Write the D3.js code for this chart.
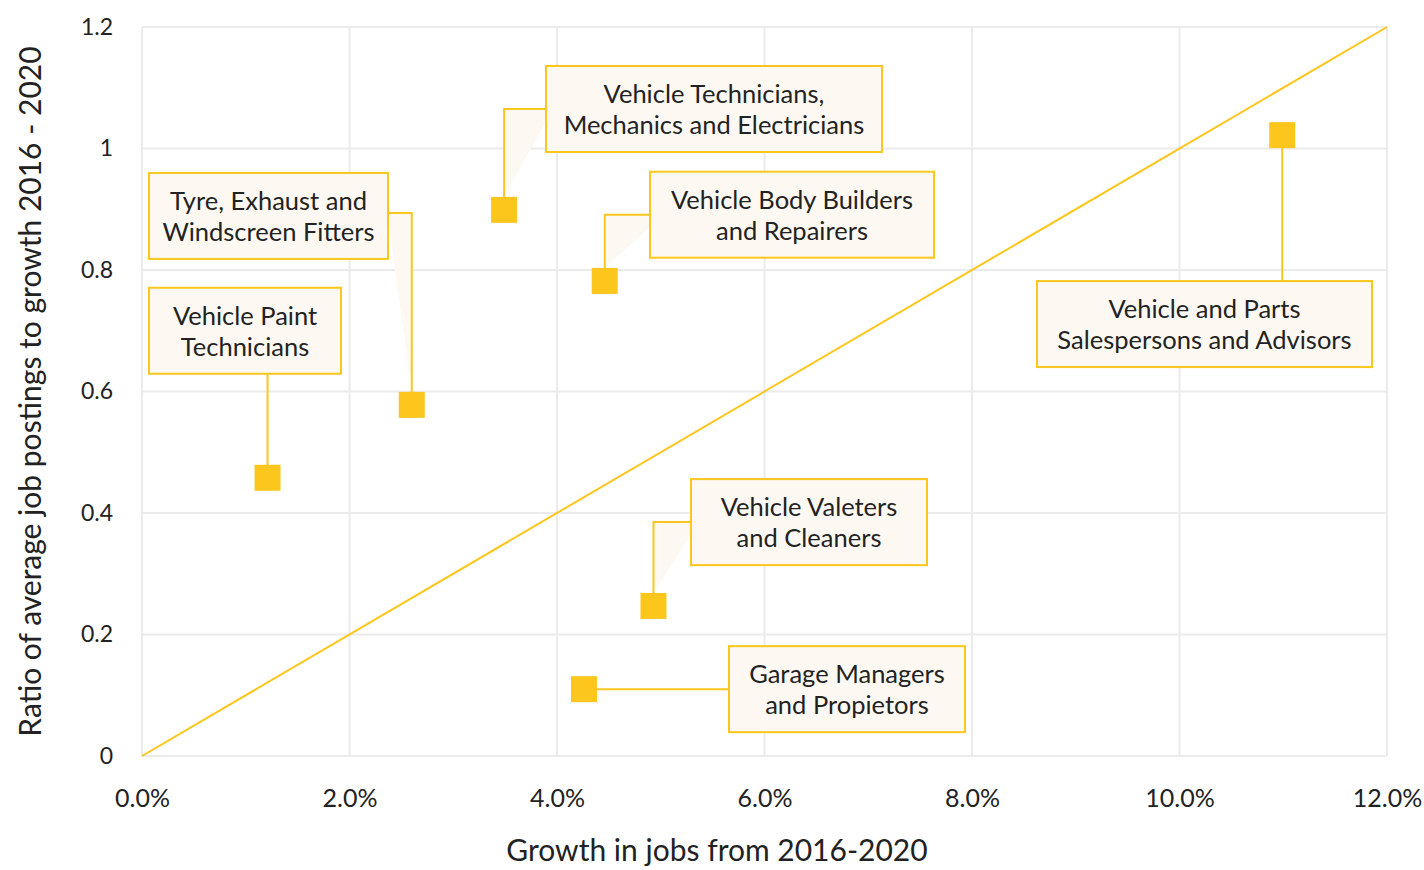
<!DOCTYPE html>
<html>
<head>
<meta charset="utf-8">
<script src="https://cdn.jsdelivr.net/npm/d3@7"></script>
<style>
  body { margin: 0; background: #fff; }
  svg { font-family: Lato, "Open Sans", sans-serif; }
</style>
</head>
<body>
<script>
// occupations
var occupations = [
  ["Vehicle Paint", "Technicians"],
  ["Tyre, Exhaust and", "Windscreen Fitters"],
  ["Vehicle Technicians,", "Mechanics and Electricians"],
  ["Vehicle Body Builders", "and Repairers"],
  ["Vehicle and Parts", "Salespersons and Advisors"],
  ["Vehicle Valeters", "and Cleaners"],
  ["Garage Managers", "and Propietors"]
];
// growth in jobs 2016-2020 (%)
var growth = [1.21, 2.60, 3.49, 4.46, 10.99, 4.93, 4.26];
// ratio of avg job postings to growth
var ratio = [0.458, 0.578, 0.899, 0.782, 1.022, 0.247, 0.110];

var xTicks = [0, 2, 4, 6, 8, 10, 12];
var yTicks = [0, 0.2, 0.4, 0.6, 0.8, 1, 1.2];

// where the callout boxes sit (data units) and which side the leader leaves from
var boxX = [0.993, 1.219, 5.513, 6.265, 10.241, 6.429, 6.795];
var boxY = [0.700, 0.889, 1.065, 0.891, 0.711, 0.385, 0.110];
var boxW = [192, 239, 336, 284, 335, 236, 236];
var leaderSide = ["bottom", "right", "left", "left", "top", "left", "left"];

var W = 1424, H = 870;
var margin = {top: 27, right: 37, bottom: 114, left: 142};
var yellow = "#fcc61d", cream = "#fdf9f2";

var svg = d3.select("body").append("svg").attr("width", W).attr("height", H);

var x = d3.scaleLinear().domain([0, 12]).range([margin.left, W - margin.right]);
var y = d3.scaleLinear().domain([0, 1.2]).range([H - margin.bottom, margin.top]);

// grid
svg.append("g").selectAll("line").data(xTicks).enter().append("line")
  .attr("x1", function(d) { return x(d); }).attr("x2", function(d) { return x(d); })
  .attr("y1", y(0)).attr("y2", y(1.2))
  .attr("stroke", "#ebebeb").attr("stroke-width", 2);
svg.append("g").selectAll("line").data(yTicks).enter().append("line")
  .attr("y1", function(d) { return y(d); }).attr("y2", function(d) { return y(d); })
  .attr("x1", x(0)).attr("x2", x(12))
  .attr("stroke", "#ebebeb").attr("stroke-width", 2);

// axes (labels only)
var xAxis = svg.append("g").attr("transform", "translate(0," + (y(0) + 30) + ")")
  .call(d3.axisBottom(x).tickValues(xTicks).tickSize(0).tickFormat(function(d) { return d.toFixed(1) + "%"; }));
var yAxis = svg.append("g").attr("transform", "translate(" + (x(0) - 26) + ",0)")
  .call(d3.axisLeft(y).tickValues(yTicks).tickSize(0).tickFormat(function(d) { return d3.format("~g")(d); }));
[xAxis, yAxis].forEach(function(a) {
  a.select(".domain").remove();
  a.selectAll("text").attr("font-family", "Lato, sans-serif").attr("fill", "#222");
});
xAxis.selectAll("text").attr("font-size", 25);
yAxis.selectAll("text").attr("font-size", 23);

svg.append("text").attr("x", 717).attr("y", 861)
  .attr("text-anchor", "middle").attr("font-size", 30).attr("fill", "#222")
  .text("Growth in jobs from 2016-2020");
svg.append("text").attr("transform", "translate(41," + y(0.6) + ") rotate(-90)")
  .attr("text-anchor", "middle").attr("font-size", 30).attr("fill", "#222")
  .text("Ratio of average job postings to growth 2016 - 2020");

// diagonal reference line
svg.append("line")
  .attr("x1", x(0)).attr("y1", y(0)).attr("x2", x(12)).attr("y2", y(1.2))
  .attr("stroke", yellow).attr("stroke-width", 2);

// callouts
var boxH = 86, sq = 26;
var callouts = svg.append("g");
for (var i = 0; i < occupations.length; i++) {
  var px = x(growth[i]), py = y(ratio[i]);
  var cx = x(boxX[i]), cy = y(boxY[i]);
  var bLeft = cx - boxW[i] / 2, bRight = cx + boxW[i] / 2, bTop = cy - boxH / 2, bBottom = cy + boxH / 2;
  var path, wedge = null;
  if (leaderSide[i] == "left") {
    if (Math.abs(cy - py) < 3) {
      path = [[bLeft, cy], [px, py]];
    } else {
      path = [[bLeft, cy], [px, cy], [px, py]];
      wedge = [[px, cy], [bLeft, cy], [bLeft, cy + 12], [px, py - sq / 2]];
    }
  } else if (leaderSide[i] == "right") {
    path = [[bRight, cy - 3], [px, cy - 3], [px, py]];
    wedge = [[px, cy - 3], [bRight, cy - 3], [bRight, cy + 2], [px, py - sq / 2]];
  } else if (leaderSide[i] == "bottom") {
    path = [[px, bBottom], [px, py]];
  } else {
    path = [[px, bTop], [px, py]];
  }
  if (wedge) {
    callouts.append("polygon").attr("points", wedge.join(" "))
      .attr("fill", cream).attr("stroke", "none");
  }
  callouts.append("polyline").attr("points", path.join(" "))
    .attr("fill", "none").attr("stroke", yellow).attr("stroke-width", 2);
  callouts.append("rect")
    .attr("x", bLeft).attr("y", bTop).attr("width", boxW[i]).attr("height", boxH)
    .attr("fill", cream).attr("stroke", yellow).attr("stroke-width", 2);
  var t = callouts.append("text").attr("text-anchor", "middle")
    .attr("font-size", 25.5).attr("fill", "#222");
  occupations[i].forEach(function(line, k) {
    t.append("tspan").attr("x", cx).attr("y", cy - 6 + k * 31).text(line);
  });
}

// markers
svg.append("g").selectAll("rect").data(growth).enter().append("rect")
  .attr("x", function(d) { return x(d) - sq / 2; })
  .attr("y", function(d, i) { return y(ratio[i]) - sq / 2; })
  .attr("width", sq).attr("height", sq)
  .attr("fill", yellow);
</script>
</body>
</html>
